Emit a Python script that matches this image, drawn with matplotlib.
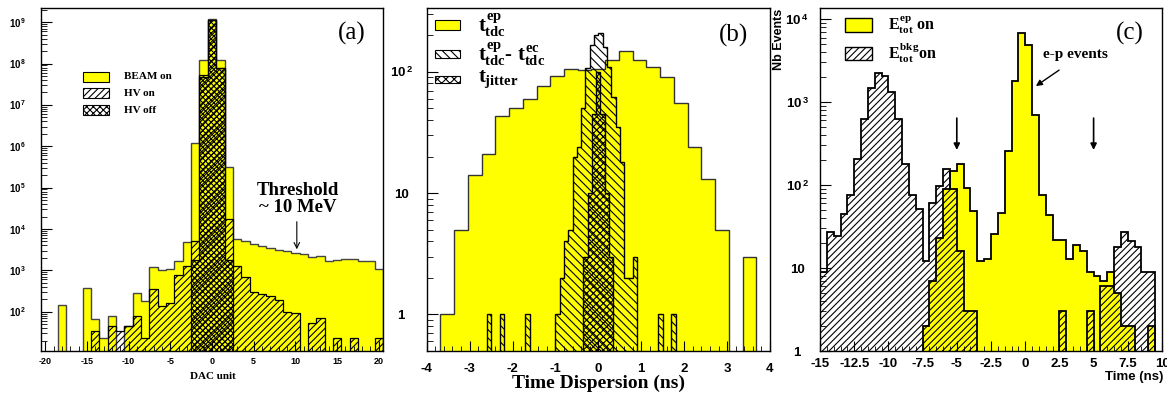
import numpy as np
import matplotlib
matplotlib.use('Agg')
import matplotlib.pyplot as plt
from matplotlib.patches import Rectangle
from matplotlib.ticker import MultipleLocator, LogLocator, NullFormatter, FuncFormatter

plt.rcParams['font.family'] = 'Liberation Serif'
plt.rcParams['font.weight'] = 'bold'
plt.rcParams['mathtext.fontset'] = 'custom'
plt.rcParams['mathtext.rm'] = 'Liberation Sans:bold'    # digits in tick labels
plt.rcParams['mathtext.it'] = 'Liberation Serif:bold'   # letters in legend labels
plt.rcParams['mathtext.bf'] = 'Liberation Serif:bold'
plt.rcParams['hatch.linewidth'] = 0.8

# (a) DAC spectra, one bin per DAC unit, centres -20..20
dac_centers = np.arange(-20, 21)
beam_on = [0, 0, 145, 0, 0, 378, 68, 23, 79, 0, 45, 277, 184, 1200, 1045, 1100, 1680, 4800,
           1.2e6, 1.2e8, 1.2e9, 1.2e8, 3.2e5,
           5750, 4990, 4365, 3980, 3500, 3020, 2860, 2600,
           2420, 2090, 2210, 1675, 1800, 1840, 1840, 1675, 1675, 1100]
hv_on = [0, 0, 0, 0, 0, 0, 34, 0, 44, 34, 45, 79, 23, 346, 137, 159, 750, 1300,
         5200, 5.4e7, 1.1e9, 7.9e7, 17400,
         1250, 690, 302, 275, 238, 190, 100, 91,
         0, 54, 69, 0, 23, 0, 23, 0, 0, 23]
hv_off = [0] * 18 + [1740, 4.8e7, 1.15e9, 7.9e7, 1740] + [0] * 18

# (b) time dispersion
tdc_centers = 0.32 * np.arange(-11, 12)
tdc_ep = [1, 5, 14, 21, 43, 50, 60, 76, 92, 105, 103, 106, 126, 149, 125, 110, 90, 55, 24, 13,
          5, 0, 3]
tdiff_edges = np.round(np.linspace(-2.6, 1.8, 45), 2)
tdc_diff = [1, 0, 0, 1, 0, 0, 0, 0, 0, 1,
            0, 0, 0, 0, 0, 0,
            1, 2, 4, 5, 20, 24, 50, 107, 166, 201,
            207, 161, 110, 62, 35, 18, 2, 2, 3, 0,
            0, 0, 0, 0, 1, 0, 0, 1]
jitter_edges = np.round(np.linspace(-0.35, 0.35, 8), 2)
jitter = [3, 10, 45, 100, 45, 10, 3]

# (c) total energy timing, 0.5 ns bins
time_edges = np.linspace(-15, 10, 51)
e_ep = [0] * 15 + [2, 7, 23, 89, 149, 179, 91, 49, 12, 13, 26, 46, 260, 1800, 6840, 4860, 697,
                   76, 44, 22, 22, 13, 19, 16, 9, 8, 7, 9, 5, 2, 2, 0, 0, 2, 0]
e_bkg = [9, 27, 24, 45, 76, 204, 634, 1460, 2215, 2055, 1308, 634, 179, 76, 51, 12, 61, 97, 155,
         89, 16, 3, 3] + [0] * 12 + [3, 0, 0, 0, 3, 0, 6, 6, 18, 27, 21, 18, 9, 9, 0]

YELLOW = '#ffff00'


def centers_to_edges(c):
    c = np.asarray(c, float)
    w = c[1] - c[0]
    return np.append(c - w / 2, c[-1] + w / 2)


def hist(ax, edges, vals, base, **kw):
    v = np.asarray(vals, float)
    v = np.where(v > 0, v, base)
    ax.stairs(v, edges, baseline=base, fill=True, **kw)


def log_label(v, pos):
    n = int(round(np.log10(v)))
    if n == 0:
        return '1'
    if n == 1:
        return '10'
    return r'$10^{\,%d}$' % n


def style_axis(ax, yt, ypad, xpad, size):
    ax.set_yscale('log')
    ax.set_yticks(yt)
    ax.yaxis.set_major_formatter(FuncFormatter(log_label))
    ax.yaxis.set_minor_locator(LogLocator(base=10, subs=np.arange(2, 10), numticks=30))
    ax.yaxis.set_minor_formatter(NullFormatter())
    ax.xaxis.set_major_formatter(FuncFormatter(lambda v, p: '%g' % v))
    ax.tick_params(which='both', direction='in', labelfontfamily='Liberation Sans',
                   labelsize=size, top=False, right=False)
    ax.tick_params(axis='y', which='major', length=8, pad=ypad)
    ax.tick_params(axis='y', which='minor', length=4)
    ax.tick_params(axis='x', which='major', length=7, pad=xpad)
    ax.tick_params(axis='x', which='minor', length=3.5)
    for lbl in ax.get_yticklabels():
        lbl.set_horizontalalignment('center')
    for sp in ax.spines.values():
        sp.set_linewidth(1.0)


fig = plt.figure(figsize=(11.67, 3.94), dpi=100)
W, H = 1167, 394
axa = fig.add_axes([41 / W, 1 - 351 / H, 342 / W, 343 / H])
axb = fig.add_axes([426.7 / W, 1 - 351 / H, 343.3 / W, 342.7 / H])
axc = fig.add_axes([820 / W, 1 - 351 / H, 342 / W, 342.7 / H])

# ---------------- (a)
dac_edges = centers_to_edges(dac_centers)
hist(axa, dac_edges, beam_on, 1, facecolor=YELLOW, edgecolor='#444444', lw=1.0)
hist(axa, dac_edges, hv_on, 1, facecolor='none', edgecolor='black', hatch='/////', lw=0.9)
hist(axa, dac_edges, hv_off, 1, facecolor='none', edgecolor='black', hatch='xxxxxx', lw=0.9)
style_axis(axa, [10 ** n for n in range(2, 10)], 17, 4, 7)
axa.tick_params(axis='x', labelsize=6.5)
axa.xaxis.set_major_locator(MultipleLocator(5))
axa.xaxis.set_minor_locator(MultipleLocator(1))
axa.set_xlim(-20.5, 20.5)
axa.set_ylim(11.2, 2.2e9)

leg_a = [('BEAM on', dict(facecolor=YELLOW)),
         ('HV on', dict(facecolor='white', hatch='/////')),
         ('HV off', dict(facecolor='white', hatch='xxxxx'))]
for i, (lab, kw) in enumerate(leg_a):
    yb = 0.785 - i * 0.0485
    axa.add_patch(Rectangle((0.123, yb), 0.076, 0.029, transform=axa.transAxes,
                            edgecolor='black', lw=0.8, **kw))
    axa.text(0.243, yb + 0.0145, lab, transform=axa.transAxes, fontsize=8, va='center')

axa.text(0.75, 0.469, 'Threshold', transform=axa.transAxes, ha='center', va='center',
         fontsize=13.5)
axa.text(0.75, 0.418, '~ 10 MeV', transform=axa.transAxes, ha='center', va='center',
         fontsize=13.5)
axa.annotate('', xy=(0.748, 0.2965), xytext=(0.748, 0.377), xycoords='axes fraction',
             arrowprops=dict(arrowstyle='->', lw=0.8, color='black', shrinkA=0, shrinkB=0,
                             mutation_scale=10))
axa.text(0.908, 0.926, '(a)', transform=axa.transAxes, ha='center', va='center',
         fontsize=18, fontweight='normal')
fig.text(212.5 / W, 1 - 376.7 / H, 'DAC unit', ha='center', va='center', fontsize=8)

# ---------------- (b)
tdc_edges = centers_to_edges(tdc_centers)
hist(axb, tdc_edges, tdc_ep, 0.1, facecolor=YELLOW, edgecolor='#333333', lw=1.0)
hist(axb, tdiff_edges, tdc_diff, 0.1, facecolor='none', edgecolor='black',
     hatch='\\\\\\\\', lw=1.0)
hist(axb, jitter_edges, jitter, 0.1, facecolor='none', edgecolor='black', hatch='xxxxx', lw=1.0)
style_axis(axb, [1, 10, 100], 18.5, 8.5, 9.5)
axb.xaxis.set_major_locator(MultipleLocator(1))
axb.xaxis.set_minor_locator(MultipleLocator(0.2))
axb.set_xlim(-4, 4)
axb.set_ylim(0.5, 333)

leg_b = [(r'$t^{ep}_{tdc}$', dict(facecolor=YELLOW), 0.937, 0.029),
         (r'$t^{ep}_{tdc}$- $t^{ec}_{tdc}$', dict(facecolor='white', hatch='\\\\\\\\'), 0.854, 0.024),
         (r'$t_{jitter}$', dict(facecolor='white', hatch='xxxx'), 0.781, 0.022)]
for lab, kw, yb, hb in leg_b:
    axb.add_patch(Rectangle((0.024, yb), 0.073, hb, transform=axb.transAxes,
                            edgecolor='black', lw=0.8, **kw))
    axb.text(0.149, yb + hb / 2, lab, transform=axb.transAxes, fontsize=15, va='center')
axb.text(0.893, 0.922, '(b)', transform=axb.transAxes, ha='center', va='center',
         fontsize=18, fontweight='normal')
fig.text(598 / W, 1 - 383 / H, 'Time Dispersion (ns)', ha='center', va='center', fontsize=14)

# ---------------- (c)
hist(axc, time_edges, e_ep, 0.1, facecolor=YELLOW, edgecolor='black', lw=1.3)
hist(axc, time_edges, e_bkg, 0.1, facecolor='none', edgecolor='black', hatch='/////', lw=1.3)
style_axis(axc, [1, 10, 100, 1e3, 1e4], 16.5, 5, 9.5)
axc.xaxis.set_major_locator(MultipleLocator(2.5))
axc.xaxis.set_minor_locator(MultipleLocator(0.5))
axc.set_xlim(-15, 10)
axc.set_ylim(1, 1.35e4)

leg_c = [(r'$E^{ep}_{tot}$ on', dict(facecolor=YELLOW), 0.932),
         (r'$E^{bkg}_{tot}$on', dict(facecolor='white', hatch='/////'), 0.849)]
for lab, kw, yb in leg_c:
    axc.add_patch(Rectangle((0.073, yb), 0.078, 0.039, transform=axc.transAxes,
                            edgecolor='black', lw=1.0, **kw))
    axc.text(0.2, yb + 0.0195, lab, transform=axc.transAxes, fontsize=11.5, va='center')

axc.text(0.906, 0.927, '(c)', transform=axc.transAxes, ha='center', va='center',
         fontsize=18, fontweight='normal')
axc.text(0.748, 0.864, 'e-p events', transform=axc.transAxes, ha='center', va='center',
         fontsize=11)
axc.annotate('', xy=(0.78, 1560), xytext=(2.48, 2430),
             arrowprops=dict(arrowstyle='-|>', lw=1.0, color='black', shrinkA=0, shrinkB=0,
                             mutation_scale=9))
for xa in (-5, 5):
    axc.annotate('', xy=(xa, 265), xytext=(xa, 641),
                 arrowprops=dict(arrowstyle='-|>', lw=1.2, color='black', shrinkA=0,
                                 shrinkB=0, mutation_scale=9))

fig.text(779 / W, 1 - 9 / H, 'Nb Events', rotation=90, ha='center', va='top', fontsize=9,
         family='Liberation Sans')
fig.text(1163 / W, 1 - 377 / H, 'Time (ns)', ha='right', va='center', fontsize=9.5,
         family='Liberation Sans')

fig.savefig('out.png', dpi=100)
print('Saved out.png')
